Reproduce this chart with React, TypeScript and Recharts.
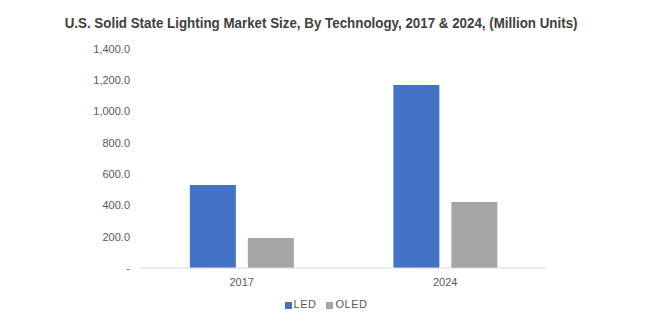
import { Bar, BarChart, Legend, XAxis, YAxis } from "recharts";

const years = ["2017", "2024"];
const led = [530, 1170];
const oled = [192, 422];
const yTicks = [0, 200, 400, 600, 800, 1000, 1200, 1400];

const data = years.map((year, i) => ({ year, LED: led[i], OLED: oled[i] }));

const fmt = (v: number) =>
  v === 0
    ? "-"
    : v.toLocaleString("en-US", { minimumFractionDigits: 1, maximumFractionDigits: 1 });

const tickStyle = { fill: "#595959", fontSize: 11, fontFamily: "Liberation Sans, Arial, sans-serif" };

export default function App() {
  return (
    <div style={{ position: "absolute", left: 0, top: 0, width: 662, height: 321, background: "#fff" }}>
      <div
        style={{
          position: "absolute",
          top: 14,
          left: 0,
          width: 643,
          textAlign: "center",
          fontFamily: "Liberation Sans, Arial, sans-serif",
          fontWeight: "bold",
          fontSize: 15,
          color: "#404040",
        }}
      >
        <span style={{ display: "inline-block", transform: "scaleX(0.89)", whiteSpace: "nowrap" }}>
          U.S. Solid State Lighting Market Size, By Technology, 2017 &amp; 2024, (Million Units)
        </span>
      </div>
      <BarChart
        width={662}
        height={321}
        data={data}
        margin={{ top: 49, right: 115, left: 0, bottom: 2 }}
        barGap={12}
        barCategoryGap="24.5%"
      >
        <XAxis
          dataKey="year"
          tickLine={false}
          axisLine={{ stroke: "#d9d9d9" }}
          tick={tickStyle}
          tickMargin={4}
          height={30}
        />
        <YAxis
          width={140}
          domain={[0, 1400]}
          ticks={yTicks}
          interval={0}
          axisLine={false}
          tickLine={false}
          tickMargin={4}
          tick={tickStyle}
          tickFormatter={fmt}
        />
        <Legend
          iconType="square"
          iconSize={7}
          height={21}
          wrapperStyle={{ fontFamily: "Liberation Sans, Arial, sans-serif", fontSize: 11, color: "#595959", left: 0, width: 662 }}
          formatter={(value) => <span style={{ color: "#595959", marginLeft: -2, letterSpacing: 0.5 }}>{value}</span>}
        />
        <Bar dataKey="LED" fill="#4472C4" isAnimationActive={false} />
        <Bar dataKey="OLED" fill="#A5A5A5" isAnimationActive={false} />
      </BarChart>
    </div>
  );
}
